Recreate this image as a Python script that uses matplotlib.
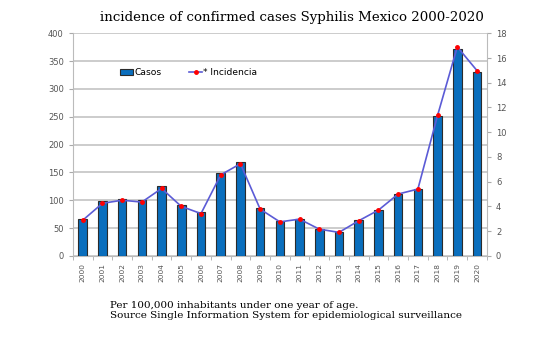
import matplotlib.pyplot as plt
import numpy as np

years = [str(y) for y in range(2000, 2021)]
casos = [67, 98, 103, 100, 126, 91, 78, 149, 169, 86, 62, 66, 48, 43, 64, 82, 112, 120, 251, 372, 331]
incidencia = [2.88, 4.25, 4.5, 4.35, 5.45, 4.0, 3.42, 6.55, 7.45, 3.78, 2.75, 2.97, 2.16, 1.9,
              2.84, 3.7, 5.0, 5.4, 11.36, 16.9, 14.98]

title = "incidence of confirmed cases Syphilis Mexico 2000-2020"
note = ("Per 100,000 inhabitants under one year of age.\n"
        "Source Single Information System for epidemiological surveillance")

fig = plt.figure(figsize=(5.52, 3.43), dpi=100)
ax = fig.add_axes([0.132, 0.254, 0.75, 0.649])
x = np.arange(len(years))

# bars on the left axis
bars = ax.bar(x, casos, width=0.43, color="#0a6ebd", edgecolor="#2b2b2b",
              linewidth=0.8, label="Casos", zorder=3)
ax.set_ylim(0, 400)
ax.set_yticks(range(0, 401, 50))
ax.set_xlim(-0.5, len(years) - 0.5)
ax.set_xticks(x)
ax.set_xticklabels(years, rotation=90)
ax.set_xticks(np.arange(-0.5, len(years), 1), minor=True)
ax.tick_params(axis="x", which="major", length=0, labelsize=5.3, labelcolor="#555555", pad=5)
ax.tick_params(axis="x", which="minor", length=3, color="#aaaaaa")
ax.tick_params(axis="y", labelsize=6, labelcolor="#555555", color="#aaaaaa", length=3)
ax.grid(axis="y", color="#c8c8c8", linewidth=1.3, zorder=0)
for side in ["top", "right"]:
    ax.spines[side].set_visible(False)
for side in ["left", "bottom"]:
    ax.spines[side].set_color("#bbbbbb")

# incidence line on the right axis
ax2 = ax.twinx()
line, = ax2.plot(x, incidencia, color="#5b5bd6", linewidth=1.2, marker="o",
                 markersize=2.5, markerfacecolor="red", markeredgecolor="red",
                 label="* Incidencia", zorder=4)
ax2.set_ylim(0, 18)
ax2.set_yticks(range(0, 19, 2))
ax2.tick_params(axis="y", labelsize=6, labelcolor="#555555", color="#aaaaaa", length=3)
for side in ["top", "left", "bottom"]:
    ax2.spines[side].set_visible(False)
ax2.spines["right"].set_color("#bbbbbb")

ax.legend([bars, line], ["Casos", "* Incidencia"], loc="upper left",
          bbox_to_anchor=(0.095, 0.88), ncol=2, frameon=False, fontsize=6.6,
          handlelength=1.4, handletextpad=0.15, columnspacing=3.0)

fig.text(0.528, 0.95, title, ha="center", va="center",
         family="DejaVu Serif", fontsize=9.6)
fig.text(0.2, 0.094, note, ha="left", va="center", family="DejaVu Serif",
         fontsize=7.5, linespacing=1.2)

fig.savefig("out.png", dpi=100)
